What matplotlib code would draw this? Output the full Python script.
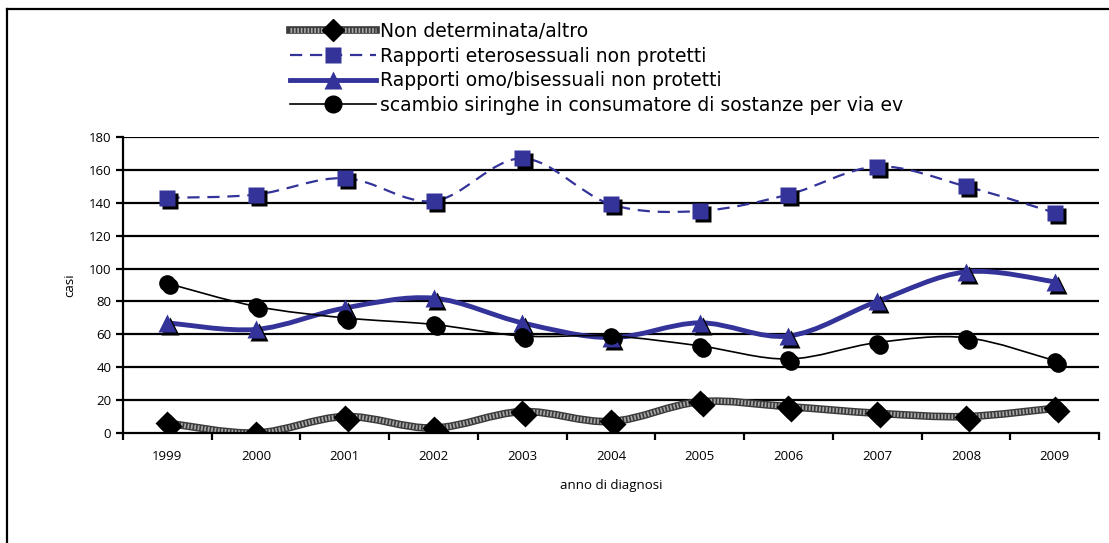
import numpy as np
import matplotlib.pyplot as plt
import matplotlib.transforms as mtransforms
from matplotlib.path import Path
from matplotlib.patches import PathPatch
from matplotlib.lines import Line2D
from matplotlib.legend_handler import HandlerTuple

anni = ['1999', '2000', '2001', '2002', '2003', '2004', '2005', '2006', '2007', '2008', '2009']
non_determinata = [6, 0, 10, 3, 13, 7, 19, 16, 12, 10, 15]
etero = [143, 145, 155, 141, 167, 139, 135, 145, 162, 150, 134]
omo_bi = [67, 63, 76, 82, 67, 58, 67, 59, 80, 98, 92]
siringhe = [91, 77, 70, 66, 59, 59, 53, 45, 55, 58, 44]

labels = ['Non determinata/altro',
          'Rapporti eterosessuali non protetti',
          'Rapporti omo/bisessuali non protetti',
          'scambio siringhe in consumatore di sostanze per via ev']

BLUE = '#333399'
DASH = (0, (5.5, 3.5))
TEXTURE = (0, (0.35, 0.35))


def smooth_path(xs, ys):
    # Excel-like smoothed line: cubic bezier through the points (Catmull-Rom)
    pts = np.column_stack([xs, ys]).astype(float)
    ext = np.vstack([pts[0], pts, pts[-1]])
    verts = [tuple(pts[0])]
    codes = [Path.MOVETO]
    for i in range(1, len(ext) - 2):
        p0, p1, p2, p3 = ext[i - 1], ext[i], ext[i + 1], ext[i + 2]
        c1 = p1 + (p2 - p0) / 6.0
        c2 = p2 - (p3 - p1) / 6.0
        verts += [tuple(c1), tuple(c2), tuple(p2)]
        codes += [Path.CURVE4] * 3
    return Path(verts, codes)


fig = plt.figure(figsize=(11.09, 5.43), dpi=100)
ax = fig.add_axes([123 / 1109, 1 - 433 / 543, (1099 - 123) / 1109, (433 - 137) / 543])

x = np.arange(len(anni))
shadow = mtransforms.offset_copy(ax.transData, fig=fig, x=3, y=-3, units='dots')

# grid
for v in range(20, 200, 20):
    ax.axhline(v, color='black', lw=1.6, zorder=1)

# lines
p = smooth_path(x, non_determinata)
ax.add_patch(PathPatch(p, fc='none', ec='#3a3a3a', lw=5.5, zorder=2, capstyle='butt'))
ax.add_patch(PathPatch(p, fc='none', ec='#a8a8a8', lw=3.5, zorder=2.1,
                       linestyle=TEXTURE, capstyle='butt'))
ax.add_patch(PathPatch(smooth_path(x, etero), fc='none', ec=BLUE, lw=1.6,
                       linestyle=DASH, zorder=2))
ax.add_patch(PathPatch(smooth_path(x, omo_bi), fc='none', ec=BLUE, lw=3.5, zorder=2))
ax.add_patch(PathPatch(smooth_path(x, siringhe), fc='none', ec='black', lw=1.2, zorder=2))

# markers with shadow
series = [(non_determinata, 'D', 'black', 12),
          (etero, 's', BLUE, 12),
          (omo_bi, '^', BLUE, 13),
          (siringhe, 'o', 'black', 12)]
for ys, m, c, ms in series:
    ax.plot(x, ys, ls='none', marker=m, ms=ms, color='black', mec='none',
            transform=shadow, zorder=3)
    ax.plot(x, ys, ls='none', marker=m, ms=ms, color=c, mec='none', zorder=4)

ax.set_xlim(-0.5, 10.5)
ax.set_ylim(0, 180)
ax.set_yticks(range(0, 181, 20))
ax.set_xticks(x)
ax.set_xticklabels(anni)
ax.set_xticks(np.arange(-0.5, 11, 1), minor=True)
ax.tick_params(axis='x', which='major', length=0, pad=12, labelsize=9.5)
ax.tick_params(axis='x', which='minor', length=5, width=1.6, direction='out')
ax.tick_params(axis='y', length=5, width=1.6, direction='out', labelsize=9.5)
for lab in ax.get_xticklabels() + ax.get_yticklabels():
    lab.set_fontfamily('Open Sans')

for s in ['top', 'right']:
    ax.spines[s].set_visible(False)
ax.spines['left'].set_linewidth(1.6)
ax.spines['bottom'].set_linewidth(1.6)

ax.set_xlabel('anno di diagnosi', fontsize=9.5, family='Open Sans', labelpad=12)
ax.set_ylabel('casi', fontsize=9.5, family='Open Sans', labelpad=9)

# legend
h1 = (Line2D([], [], color='#3a3a3a', lw=5.5),
      Line2D([], [], color='#a8a8a8', lw=3.5, ls=TEXTURE),
      Line2D([], [], ls='none', marker='D', ms=11, color='black'))
h2 = Line2D([], [], color=BLUE, lw=1.6, ls=DASH, marker='s', ms=12, mec='none')
h3 = Line2D([], [], color=BLUE, lw=3.5, marker='^', ms=13, mec='none')
h4 = Line2D([], [], color='black', lw=1.2, marker='o', ms=12)
fig.legend([h1, h2, h3, h4], labels, loc='upper left',
           bbox_to_anchor=(290 / 1109, 1 - 22 / 543), frameon=False,
           borderpad=0, borderaxespad=0, handlelength=4.6, handletextpad=0.2,
           labelspacing=0.3, prop={'size': 13.5},
           handler_map={tuple: HandlerTuple(ndivide=1)})

# outer frame (left and top)
fig.add_artist(Line2D([7 / 1109, 7 / 1109], [0, 1 - 9 / 543], color='black', lw=1.6,
                      transform=fig.transFigure))
fig.add_artist(Line2D([7 / 1109, 1], [1 - 9 / 543, 1 - 9 / 543], color='black', lw=1.6,
                      transform=fig.transFigure))

fig.savefig('out.png', dpi=100)
